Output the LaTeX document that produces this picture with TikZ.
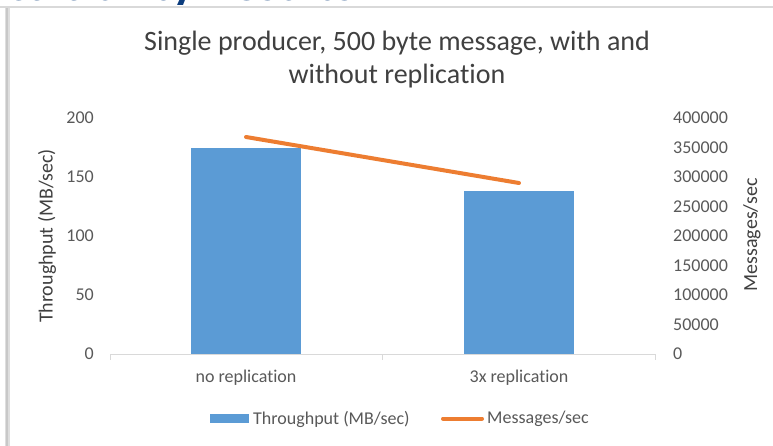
\documentclass[tikz,border=0pt]{standalone}
\usepackage{fontspec}
\setmainfont{Carlito}[Ligatures=NoCommon]
\definecolor{barblue}{HTML}{5B9BD5}
\definecolor{lineorange}{HTML}{ED7D31}
\definecolor{axisgray}{HTML}{D9D9D9}
\definecolor{ticktext}{HTML}{595959}
\definecolor{titletext}{HTML}{404040}
\definecolor{slideblue}{HTML}{0B3C7D}
\definecolor{framegray}{HTML}{C8C8C8}

\tikzset{
  ticklabel/.style={text=ticktext, font=\fontsize{18}{21}\selectfont, inner sep=0pt},
  axistitle/.style={text=titletext, font=\fontsize{20}{24}\selectfont, inner sep=0pt, rotate=90},
  charttitle/.style={text=titletext, font=\fontsize{28}{33}\selectfont, inner sep=0pt},
  bar/.style={fill=barblue},
  series/.style={draw=lineorange, line width=4pt, line cap=round},
  axisline/.style={draw=axisgray, line width=1pt}
}

\begin{document}
\begin{tikzpicture}[x=1pt, y=-1pt]
\useasboundingbox (0,0) rectangle (773,446);
\fill[white] (0,0) rectangle (773,446);

% slide heading, cut off by the top edge
\begin{scope}
  \clip (0,0) rectangle (773,4.5);
  \node[anchor=base west, inner sep=0pt, text=slideblue,
        font=\bfseries\fontsize{50}{56}\selectfont] (heading) at (-16,0.8) {Scalability Results};
\end{scope}

% slide frame: top rule and left edge
\draw[draw=axisgray, line width=2pt] (0,7) -- (773,7);
\draw[draw=framegray!60, line width=5pt] (7,8) -- (7,446);
\draw[draw=framegray, line width=2pt] (7,8) -- (7,446);

% chart title
\node[charttitle] (title1) at (397,43) {Single producer, 500 byte message, with and};
\node[charttitle] (title2) at (397,76) {without replication};

% category axis
\coordinate (axL) at (110,354);
\coordinate (axM) at (382,354);
\coordinate (axR) at (655,354);
\draw[axisline] (axL) -- (axR);
\foreach \p in {axL,axM,axR} \draw[axisline] (\p) -- ++(0,6);

% bars: throughput (MB/sec), 1.18 px per unit
\fill[bar] (191,148) rectangle (301,354);
\fill[bar] (464,191) rectangle (574,354);

% line: messages/sec on the secondary axis
\coordinate (m1) at (246,137);
\coordinate (m2) at (519,183);
\draw[series] (m1) -- (m2);

% primary axis labels
\foreach \v [count=\i from 0] in {0,50,100,150,200}
  \node[ticklabel, anchor=east] (yl\i) at (94,354-59*\i) {\v};
% secondary axis labels
\foreach \v [count=\i from 0] in {0,50000,100000,150000,200000,250000,300000,350000,400000}
  \node[ticklabel, anchor=west] (yr\i) at (673,354-29.5*\i) {\v};

% axis titles
\node[axistitle] (ytitleL) at (47,236) {Throughput (MB/sec)};
\node[axistitle] (ytitleR) at (752,235) {Messages/sec};

% category labels
\node[ticklabel] (cat1) at (246,378) {no replication};
\node[ticklabel] (cat2) at (519,378) {3x replication};

% legend
\fill[bar] (210,414) rectangle (249,423);
\node[ticklabel, anchor=west] (leg1) at (253,419) {Throughput (MB/sec)};
\coordinate (lg1) at (443,418.5);
\coordinate (lg2) at (482,418.5);
\draw[series] (lg1) -- (lg2);
\node[ticklabel, anchor=west] (leg2) at (487,419) {Messages/sec};
\end{tikzpicture}
\end{document}
